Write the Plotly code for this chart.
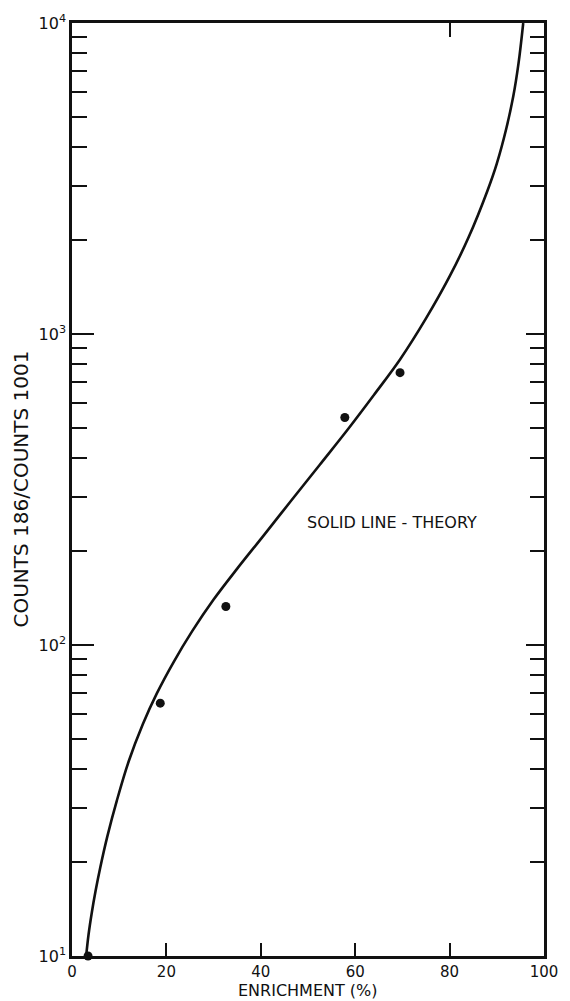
import plotly.graph_objects as go

# Measured ratio of counts vs. isotopic enrichment
enrichment_pct = [3.4, 18.7, 32.6, 57.8, 69.5]
count_ratio = [10, 65, 133, 539, 751]

# Theoretical curve (solid line)
theory_x = [3.0, 3.5, 4.2, 5.0, 6.0, 7.5, 9.5, 12, 15, 18, 21.5, 25.5, 30, 35,
            40.5, 46.5, 52.5, 58.5, 64, 69.5, 75, 80, 84, 88, 90, 92, 93.5,
            94.6, 95.6]
theory_y = [10, 11.7, 13.8, 16.2, 19.3, 24.3, 31.6, 42.2, 55.6, 70, 88, 111,
            140, 176, 224, 292, 380, 495, 638, 828, 1122, 1531, 2042, 2884,
            3532, 4571, 5821, 7413, 10000]

x_ticks = [0, 20, 40, 60, 80, 100]
x_tick_text = ["0", "20", "40", "60", "80", "100"]
y_decades = [10, 100, 1000, 10000]
y_decade_text = ["10<sup>1</sup>", "10<sup>2</sup>", "10<sup>3</sup>", "10<sup>4</sup>"]
y_minor = [m * d for d in (10, 100, 1000) for m in range(2, 10)]

FONT = "DejaVu Sans, Liberation Sans, sans-serif"
INK = "#111111"

fig = go.Figure()

fig.add_trace(go.Scatter(
    x=theory_x, y=theory_y, mode="lines",
    line=dict(color=INK, width=2.6, shape="spline", smoothing=1.0),
    cliponaxis=False, showlegend=False, hoverinfo="skip",
))
fig.add_trace(go.Scatter(
    x=enrichment_pct, y=count_ratio, mode="markers",
    marker=dict(color=INK, size=9),
    cliponaxis=False, showlegend=False,
))
# same points on the mirrored axes so the top/right tick marks are drawn
fig.add_trace(go.Scatter(
    x=enrichment_pct, y=count_ratio, mode="markers", xaxis="x2", yaxis="y2",
    marker=dict(color=INK, size=9, opacity=0),
    showlegend=False, hoverinfo="skip",
))

fig.update_layout(
    width=570, height=1001,
    margin=dict(l=72, r=22, t=22, b=45),
    paper_bgcolor="white", plot_bgcolor="white",
    font=dict(family=FONT, color=INK, size=16),
    xaxis=dict(
        range=[0, 100], tickvals=x_ticks, ticktext=x_tick_text,
        ticks="inside", ticklen=13, tickwidth=2, tickcolor=INK,
        showline=True, linewidth=2.6, linecolor=INK, mirror=True,
        showgrid=False, zeroline=False, tickfont=dict(size=15),
    ),
    xaxis2=dict(
        range=[0, 100], overlaying="x", side="top", tickvals=[80],
        ticks="inside", ticklen=14, tickwidth=2, tickcolor=INK,
        showticklabels=False, showline=False, showgrid=False, zeroline=False,
    ),
    yaxis=dict(
        type="log", range=[1, 4], tickvals=y_decades, ticktext=y_decade_text,
        ticks="inside", ticklen=22, tickwidth=2, tickcolor=INK,
        minor=dict(tickvals=y_minor, ticks="inside", ticklen=15,
                   tickwidth=2, tickcolor=INK, showgrid=False),
        showline=True, linewidth=2.6, linecolor=INK, mirror=True,
        showgrid=False, zeroline=False, tickfont=dict(size=16),
    ),
    yaxis2=dict(
        type="log", range=[1, 4], overlaying="y", side="right",
        tickvals=y_decades, showticklabels=False,
        ticks="inside", ticklen=18, tickwidth=2, tickcolor=INK,
        minor=dict(tickvals=y_minor, ticks="inside", ticklen=14,
                   tickwidth=2, tickcolor=INK, showgrid=False),
        showline=False, showgrid=False, zeroline=False,
    ),
    annotations=[
        dict(text="COUNTS 186/COUNTS 1001", textangle=-90,
             xref="paper", yref="paper", x=0, y=0.5, xshift=-52,
             showarrow=False, font=dict(size=20, family=FONT),
             xanchor="center", yanchor="middle"),
        dict(text="ENRICHMENT (%)",
             xref="paper", yref="paper", x=0.5, y=0, yshift=-34,
             showarrow=False, font=dict(size=16, family=FONT),
             xanchor="center", yanchor="middle"),
        dict(text="SOLID LINE - THEORY",
             xref="x", yref="y", x=49.4, y=2.395,
             showarrow=False, font=dict(size=16, family=FONT),
             xanchor="left", yanchor="middle"),
    ],
)

fig.write_html("out.html")
